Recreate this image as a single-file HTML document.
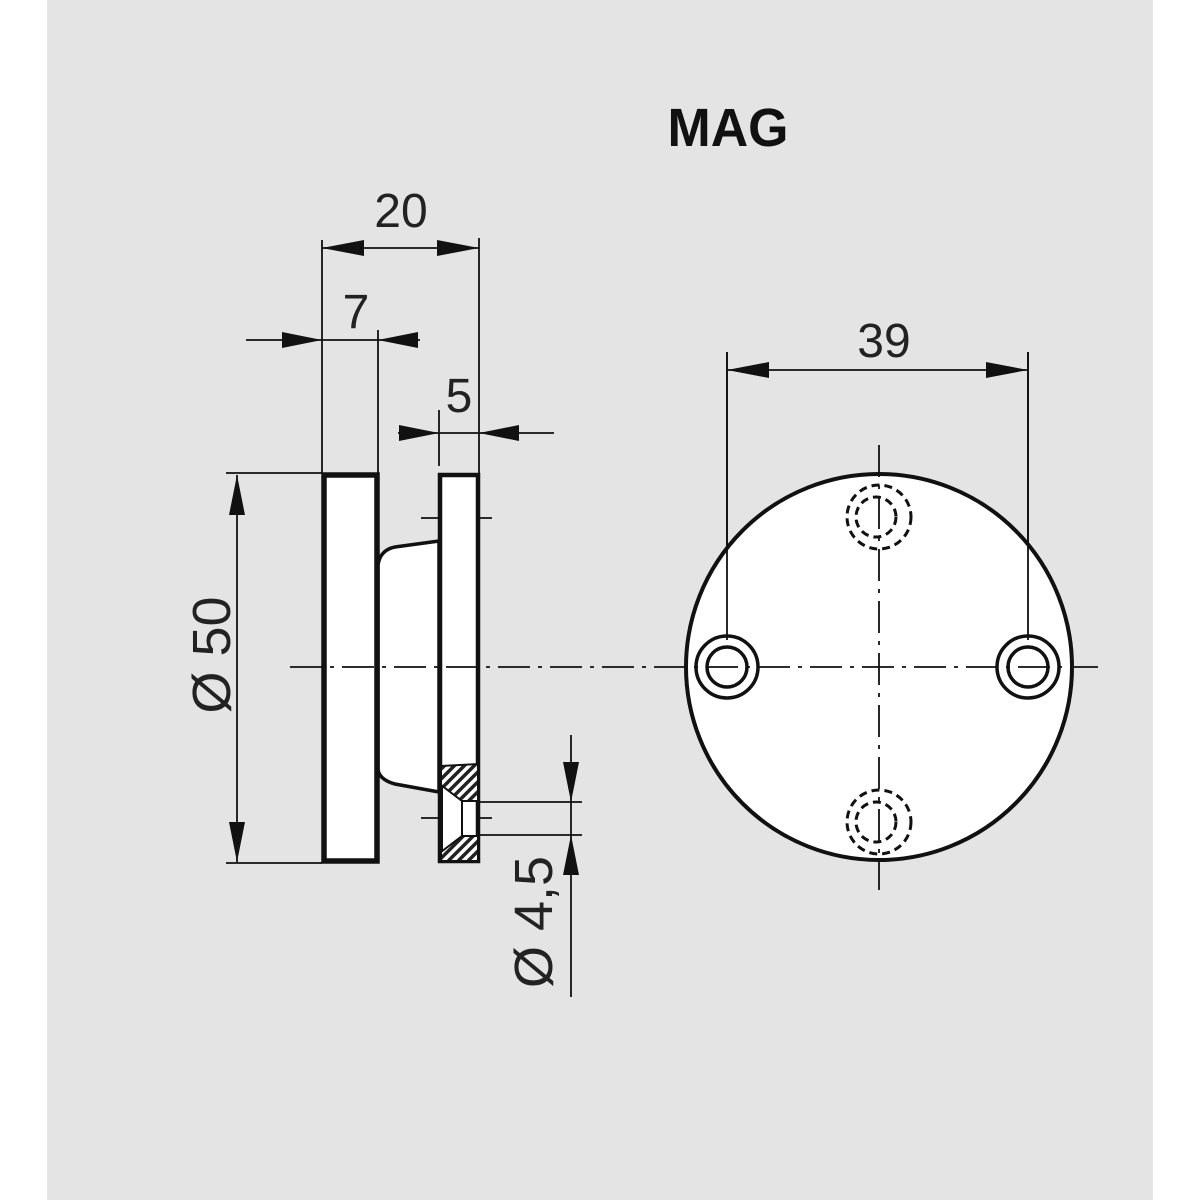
<!DOCTYPE html>
<html><head><meta charset="utf-8"><style>html,body{margin:0;padding:0;background:#fff}svg{display:block}</style></head><body>
<svg width="1200" height="1200" viewBox="0 0 1200 1200" xmlns="http://www.w3.org/2000/svg">
<defs>
<pattern id="h" width="7" height="7" patternUnits="userSpaceOnUse" patternTransform="rotate(45)">
<rect width="7" height="7" fill="#fff"/><rect width="3.5" height="7" fill="#222"/></pattern>
</defs>
<rect x="47" y="0" width="1106" height="1200" fill="#e4e4e4"/>
<text x="728" y="146" font-family="Liberation Sans, sans-serif" font-weight="bold" font-size="54" text-anchor="middle" fill="#111" transform="translate(728,0) scale(0.96,1) translate(-728,0)">MAG</text>
<g font-family="Liberation Sans, sans-serif" font-size="48" fill="#222" text-anchor="middle">
<text x="401" y="227">20</text>
<text x="356" y="328">7</text>
<text x="459" y="412">5</text>
<text x="884" y="357">39</text>
<text transform="translate(230,655) rotate(-90)" font-size="54">Ø 50</text>
<text transform="translate(552,922) rotate(-90)" font-size="54">Ø 4,5</text>
</g>
<g stroke="#111" stroke-width="1.8" fill="none">
<line x1="322" y1="240" x2="322" y2="473"/><line x1="479" y1="238" x2="479" y2="473"/>
<line x1="322" y1="248" x2="479" y2="248"/>
<line x1="378" y1="330" x2="378" y2="473"/>
<line x1="246" y1="340" x2="420" y2="340"/>
<line x1="439" y1="410" x2="439" y2="466"/>
<line x1="398" y1="433" x2="554" y2="433"/>
<line x1="226" y1="473" x2="322" y2="473"/><line x1="226" y1="863" x2="322" y2="863"/>
<line x1="237" y1="475" x2="237" y2="862"/>
<line x1="480" y1="802" x2="582" y2="802"/><line x1="480" y1="835" x2="582" y2="835"/>
<line x1="571" y1="735" x2="571" y2="997"/>
<line x1="421" y1="518" x2="492" y2="518"/><line x1="421" y1="818" x2="492" y2="818"/>
<line x1="727" y1="352" x2="727" y2="640"/><line x1="1028" y1="352" x2="1028" y2="640"/>
<line x1="727" y1="370" x2="1028" y2="370"/>
</g>
<g fill="#111">
<polygon points="322,248 364,240 364,256"/><polygon points="479,248 437,240 437,256"/>
<polygon points="322,340 282,332 282,348"/><polygon points="378,340 418,332 418,348"/>
<polygon points="439,433 399,425 399,441"/><polygon points="479,433 519,425 519,441"/>
<polygon points="237,475 229,515 245,515"/><polygon points="237,862 229,822 245,822"/>
<polygon points="571,802 563,762 579,762"/><polygon points="571,835 563,875 579,875"/>
<polygon points="727,370 769,362 769,378"/><polygon points="1028,370 986,362 986,378"/>
</g>
<path d="M378,565 Q380,550 395,547 L439,541 L439,792 L395,784 Q380,780 378,770 Z" fill="#fff" stroke="#111" stroke-width="3.5"/>
<rect x="324" y="475" width="53" height="386" fill="#fff" stroke="#111" stroke-width="5.5"/>
<rect x="440" y="475" width="38" height="386" fill="#fff" stroke="#111" stroke-width="4.5"/>
<path d="M441,766 L478,764 L478,801 L462,801 L441,785 Z" fill="url(#h)" stroke="#111" stroke-width="2"/>
<path d="M462,836 L478,836 L478,861 L441,861 L441,852 Z" fill="url(#h)" stroke="#111" stroke-width="2"/>
<line x1="462" y1="801" x2="462" y2="836" stroke="#111" stroke-width="2"/>
<line x1="441" y1="785" x2="441" y2="852" stroke="#111" stroke-width="4"/>
<circle cx="879" cy="667" r="193" fill="#fff" stroke="#111" stroke-width="4"/>
<g stroke="#111" stroke-width="1.8" stroke-dasharray="32,8,4,8">
<line x1="290" y1="667" x2="1098" y2="667"/>
<line x1="879" y1="445" x2="879" y2="890"/>
</g>
<line x1="727" y1="352" x2="727" y2="640" stroke="#111" stroke-width="1.8"/>
<line x1="1028" y1="352" x2="1028" y2="640" stroke="#111" stroke-width="1.8"/>
<g fill="none" stroke="#111" stroke-width="3.5">
<circle cx="727" cy="667" r="31"/><circle cx="727" cy="667" r="20"/>
<circle cx="1028" cy="667" r="31"/><circle cx="1028" cy="667" r="20"/>
</g>
<g fill="none" stroke="#111" stroke-width="3" stroke-dasharray="8,5">
<circle cx="879" cy="517" r="32"/><circle cx="876" cy="517" r="20"/>
<circle cx="879" cy="822" r="32"/><circle cx="876" cy="822" r="20"/>
</g>
</svg>
</body></html>
